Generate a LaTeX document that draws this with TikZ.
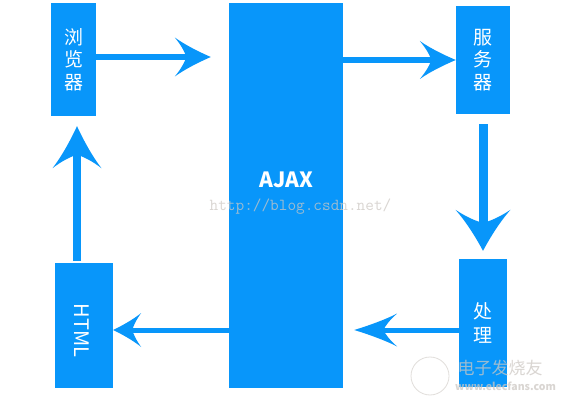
\documentclass[tikz,border=0pt]{standalone}
\usepackage{fontspec}
\newfontfamily\cjk{Noto Sans CJK SC}
\usetikzlibrary{arrows.meta,calc}
\definecolor{ajaxblue}{RGB}{8,150,250}
\definecolor{wmgray}{RGB}{205,200,195}
\pgfdeclarearrow{
  name=Wing,
  parameters={\the\pgfarrowlength,\the\pgfarrowwidth},
  setup code={
    \pgfarrowssettipend{0pt}
    \pgfarrowssetbackend{-\pgfarrowlength}
    \pgfarrowssetlineend{-0.5\pgfarrowlength}
    \pgfarrowssavethe\pgfarrowlength
    \pgfarrowssavethe\pgfarrowwidth
  },
  drawing code={
    \pgfpathmoveto{\pgfpointorigin}
    \pgfpathcurveto{\pgfpoint{-0.3\pgfarrowlength}{0.12\pgfarrowwidth}}{\pgfpoint{-0.7\pgfarrowlength}{0.3\pgfarrowwidth}}{\pgfpoint{-\pgfarrowlength}{0.5\pgfarrowwidth}}
    \pgfpathcurveto{\pgfpoint{-0.82\pgfarrowlength}{0.3\pgfarrowwidth}}{\pgfpoint{-0.72\pgfarrowlength}{0.12\pgfarrowwidth}}{\pgfpoint{-0.68\pgfarrowlength}{0pt}}
    \pgfpathcurveto{\pgfpoint{-0.72\pgfarrowlength}{-0.12\pgfarrowwidth}}{\pgfpoint{-0.82\pgfarrowlength}{-0.3\pgfarrowwidth}}{\pgfpoint{-\pgfarrowlength}{-0.5\pgfarrowwidth}}
    \pgfpathcurveto{\pgfpoint{-0.7\pgfarrowlength}{-0.3\pgfarrowwidth}}{\pgfpoint{-0.3\pgfarrowlength}{-0.12\pgfarrowwidth}}{\pgfpointorigin}
    \pgfpathclose
    \pgfusepathqfill
  },
  defaults={length=30pt,width=30pt}
}
\tikzset{
  box/.style={fill=ajaxblue, draw=none, inner sep=0pt, text=white, align=center,
    font={\cjk\fontsize{19}{22.5}\selectfont}},
  conn/.style={draw=ajaxblue, color=ajaxblue},
  lbl/.style={inner sep=0pt, text=white},
  wm/.style={inner sep=0pt, text=wmgray, opacity=0.75}
}
\begin{document}
\begin{tikzpicture}[x=1pt,y=-1pt]
\useasboundingbox[fill=white] (0,0) rectangle (562,403);
% boxes
\node[box, minimum width=45pt, minimum height=113pt] (browser) at (73.5,59.5) {浏\\览\\器};
\node[box, minimum width=114pt, minimum height=385pt] (ajax) at (286,195.5) {};
\node[box, minimum width=54pt, minimum height=108pt] (server) at (483,60) {服\\务\\器};
\node[box, minimum width=48pt, minimum height=128pt, font={\cjk\fontsize{19}{24}\selectfont}] (proc) at (483,323) {处\\理};
\node[box, minimum width=58pt, minimum height=125pt] (html) at (84,325.5) {};
\node[lbl, font={\cjk\bfseries\fontsize{21}{24}\selectfont}] (ajaxtext) at (286.5,179.5) {AJAX};
\node[lbl, rotate=-90, font={\cjk\fontsize{20}{24}\selectfont}] (htmltext) at (81.7,330.5) {HTML};
% connectors
\draw[conn, line width=6pt, -{Wing[length=36pt,width=39pt]}, shorten >=18pt]
  (browser.east |- 0,57) -- (ajax.west |- 0,57);
\draw[conn, line width=6pt, -{Wing[length=36pt,width=38pt]}]
  (ajax.east |- 0,60) -- (server.west |- 0,60);
\draw[conn, line width=9pt, -{Wing[length=41pt,width=55pt]}, shorten <=10pt, shorten >=8pt]
  (server.south) -- (proc.north);
\draw[conn, line width=5pt, -{Wing[length=43pt,width=33pt]}, shorten >=11pt]
  (proc.west |- 0,330) -- (ajax.east |- 0,330);
\draw[conn, line width=5pt, -{Wing[length=28pt,width=34pt]}]
  (ajax.west |- 0,330) -- (html.east |- 0,330);
\draw[conn, line width=8pt, -{Wing[length=42pt,width=49pt]}, shorten <=2pt, shorten >=10pt]
  (html.north -| 77,0) -- (browser.south -| 77,0);
% watermarks
\node[wm, font={\ttfamily\fontsize{16.8}{20}\selectfont}] (csdn) at (300.5,207) {http://blog.csdn.net/};
\draw[wmgray, opacity=0.6, line width=0.8pt] (430,376) circle[radius=19pt];
\node[wm, font={\cjk\itshape\fontsize{17}{20}\selectfont}] (efname) at (500,368.5) {电子发烧友};
\node[wm, font={\cjk\bfseries\fontsize{10.5}{12}\selectfont}] (efurl) at (505.5,386.5) {www.elecfans.com};
\end{tikzpicture}
\end{document}
